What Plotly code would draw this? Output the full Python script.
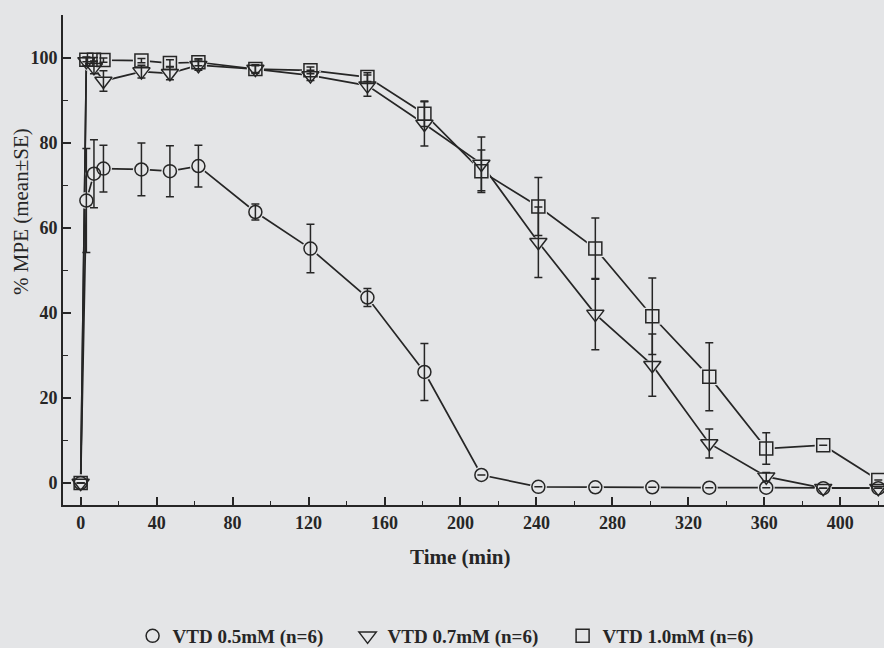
import plotly.graph_objects as go

# Time points (min) and % MPE (mean, SE) for each vetiver dose
time_min = [0, 3, 7, 12, 32, 47, 62, 92, 121, 151, 181, 211, 241, 271, 301, 331, 361, 391, 420]

mpe_05 = [0, 66.4, 72.7, 73.9, 73.7, 73.3, 74.5, 63.7, 55.1, 43.6, 26.1, 1.9,
          -0.9, -1.0, -1.0, -1.1, -1.1, -1.2, -1.2]
se_05 = [0, 12.2, 8.0, 5.5, 6.2, 6.0, 4.9, 1.9, 5.7, 2.1, 6.7, 0,
         0, 0, 0, 0, 0, 0, 0]

mpe_07 = [0, 99.1, 97.7, 94.5, 96.7, 96.3, 98.2, 97.3, 95.8, 93.4, 84.4, 75.0,
          56.6, 39.7, 27.7, 9.3, 1.5, -1.2, -1.2]
se_07 = [0, 1.0, 1.5, 2.4, 1.5, 1.5, 1.2, 1.0, 1.2, 2.5, 5.2, 6.3,
         8.3, 8.4, 7.3, 3.4, 1.0, 0, 0]

mpe_10 = [0, 99.5, 99.5, 99.4, 99.3, 98.7, 98.9, 97.3, 97.0, 95.4, 86.8, 73.3,
          65.0, 55.1, 39.2, 25.0, 8.1, 8.9, 0.7]
se_10 = [0, 0.5, 0.5, 0.5, 0.5, 0.8, 0.8, 0.8, 0.8, 1.0, 3.0, 5.0,
         6.8, 7.2, 9.0, 8.0, 3.7, 0, 0]

series_names = ["VTD 0.5mM (n=6)", "VTD 0.7mM (n=6)", "VTD 1.0mM (n=6)"]
x_tick_vals = [0, 40, 80, 120, 160, 200, 240, 280, 320, 360, 400]
y_tick_vals = [0, 20, 40, 60, 80, 100]

BG = "#e4e5e7"
INK = "#262626"
SERIF = "Liberation Serif"

series = [
    (series_names[0], mpe_05, se_05, "circle", 13),
    (series_names[1], mpe_07, se_07, "triangle-down", 15),
    (series_names[2], mpe_10, se_10, "square", 13),
]

fig = go.Figure()

# connecting lines
for name, y, se, sym, size in series:
    fig.add_trace(go.Scatter(
        x=time_min, y=y, mode="lines", showlegend=False, hoverinfo="skip",
        line=dict(color=INK, width=1.7),
    ))

# background-coloured discs keep a small gap between lines and symbols
for name, y, se, sym, size in series:
    fig.add_trace(go.Scatter(
        x=time_min, y=y, mode="markers", showlegend=False, hoverinfo="skip",
        marker=dict(symbol=sym, size=size + 4, color=BG, line=dict(width=0)),
    ))

# open symbols with SE bars
for name, y, se, sym, size in series:
    err = [e if e > 0 else None for e in se]
    fig.add_trace(go.Scatter(
        x=time_min, y=y, mode="markers", name=name,
        marker=dict(symbol=sym + "-open", size=size, color=INK,
                    line=dict(width=1.5, color=INK)),
        error_y=dict(type="data", array=err, visible=True, color=INK,
                     thickness=1.5, width=4),
    ))

fig.update_layout(
    width=884, height=648,
    margin=dict(l=63, r=0, t=15, b=143),
    paper_bgcolor=BG, plot_bgcolor=BG,
    font=dict(family=SERIF, color=INK),
    showlegend=True,
    legend=dict(
        orientation="h", xref="container", yref="container",
        x=0.15, xanchor="left", y=0.0185, yanchor="middle",
        entrywidth=170, entrywidthmode="pixels",
        font=dict(family=SERIF, size=19, weight="bold", color=INK),
        bgcolor="rgba(0,0,0,0)", itemsizing="trace",
    ),
    xaxis=dict(
        range=[-9.3, 423], showgrid=False, zeroline=False,
        showline=True, linecolor=INK, linewidth=1.8,
        ticks="inside", ticklen=8, tickwidth=1.6, tickcolor=INK,
        tickvals=x_tick_vals,
        tickfont=dict(family=SERIF, size=18, weight="bold", color=INK),
        minor=dict(dtick=20, tick0=0, ticks="inside", ticklen=4,
                   tickwidth=1.4, tickcolor=INK),
    ),
    yaxis=dict(
        range=[-5.16, 110], showgrid=False, zeroline=False,
        showline=True, linecolor=INK, linewidth=1.8,
        ticks="inside", ticklen=8, tickwidth=1.6, tickcolor=INK,
        tickvals=y_tick_vals,
        tickfont=dict(family=SERIF, size=18, weight="bold", color=INK),
        minor=dict(dtick=10, tick0=0, ticks="inside", ticklen=5,
                   tickwidth=1.4, tickcolor=INK),
    ),
    annotations=[
        dict(text="Time (min)", xref="paper", yref="paper",
             x=0.4836, y=-0.106, showarrow=False, xanchor="center", yanchor="middle",
             font=dict(family=SERIF, size=21, weight="bold", color=INK)),
        dict(text="% MPE (mean\u00b1SE)", xref="paper", yref="paper",
             x=-0.0512, y=0.60, showarrow=False, textangle=-90,
             xanchor="center", yanchor="middle",
             font=dict(family=SERIF, size=21, color=INK)),
    ],
)

fig.write_html("out.html")
